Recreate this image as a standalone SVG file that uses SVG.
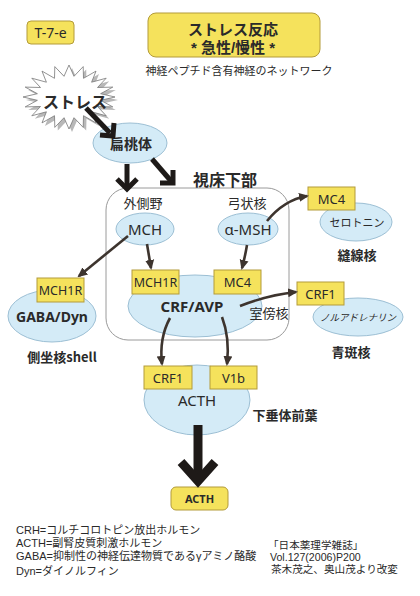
<svg xmlns="http://www.w3.org/2000/svg" width="420" height="596" viewBox="0 0 420 596">
<style>
text{font-family:"Noto Sans CJK JP","Noto Sans",sans-serif;fill:#2a2a2a}
.lat{font-family:"Noto Sans","Liberation Sans",sans-serif}
.b{font-weight:bold}
.c{text-anchor:middle}
.ell{fill:#d4ebf7;stroke:#9cbfd4;stroke-width:1}
.box{fill:#f5e25c;stroke:#b39b3a;stroke-width:1}
.thin{fill:none;stroke:#3d342e;stroke-width:2.6;marker-end:url(#ah)}
.thick{fill:none;stroke:#1e1a18;stroke-width:5;stroke-linejoin:miter}
.tt{font-family:"Liberation Sans","Noto Sans CJK JP",sans-serif;font-size:15px;font-weight:bold}
.note{font-family:"Liberation Sans","Noto Sans CJK JP",sans-serif;font-size:11px}
.note2{font-family:"Liberation Sans","Noto Sans CJK JP",sans-serif;font-size:10.6px}
</style>
<defs>
<marker id="ah" viewBox="0 0 10 10" refX="8" refY="5" markerWidth="10" markerHeight="10" markerUnits="userSpaceOnUse" orient="auto">
<path d="M0,0.5 L10,5 L0,9.5 z" fill="#3d342e"/>
</marker>
</defs>
<rect width="420" height="596" fill="#ffffff"/>

<g id="label-t7e">
<rect x="27" y="21" width="47" height="23" rx="4" class="box"/>
<text x="50.5" y="38" class="lat c" font-size="14">T-7-e</text>
</g>

<g id="title">
<rect x="148" y="13" width="172" height="44" rx="8" class="box"/>
<text x="233" y="35" class="c tt">ストレス反応</text>
<text x="233" y="53" class="c tt">* 急性/慢性 *</text>
<text x="239" y="75" class="c" font-size="11">神経ペプチド含有神経のネットワーク</text>
</g>

<g id="hypothalamus">
<rect x="106" y="188" width="183" height="152" rx="22" fill="none" stroke="#9a9a9a" stroke-width="1"/>
<text x="225" y="186" class="c b" font-size="16">視床下部</text>
<text x="143" y="208" class="c" font-size="13">外側野</text>
<text x="247" y="208" class="c" font-size="13">弓状核</text>
</g>

<g id="stress">
<polygon transform="translate(3,3)" fill="#b8b8b8" points="115,97 100.6,100.3 112.8,106.9 97.5,106.5 106.2,115.8 91.6,111.8 96,122.9 83.5,115.7 83.2,127.4 74,117.7 69,129 64,117.7 54.8,127.4 54.5,115.7 42,122.9 46.4,111.8 31.8,115.8 40.5,106.5 25.2,106.9 37.4,100.3 23,97 37.4,93.7 25.2,87.1 40.5,87.5 31.8,78.2 46.4,82.2 42,71.1 54.5,78.3 54.8,66.6 64,76.3 69,65 74,76.3 83.2,66.6 83.5,78.3 96,71.1 91.6,82.2 106.2,78.2 97.5,87.5 112.8,87.1 100.6,93.7"/>
<polygon fill="#ffffff" stroke="#777" stroke-width="0.8" points="115,97 100.6,100.3 112.8,106.9 97.5,106.5 106.2,115.8 91.6,111.8 96,122.9 83.5,115.7 83.2,127.4 74,117.7 69,129 64,117.7 54.8,127.4 54.5,115.7 42,122.9 46.4,111.8 31.8,115.8 40.5,106.5 25.2,106.9 37.4,100.3 23,97 37.4,93.7 25.2,87.1 40.5,87.5 31.8,78.2 46.4,82.2 42,71.1 54.5,78.3 54.8,66.6 64,76.3 69,65 74,76.3 83.2,66.6 83.5,78.3 96,71.1 91.6,82.2 106.2,78.2 97.5,87.5 112.8,87.1 100.6,93.7"/>
<text x="75" y="108" class="c b" font-size="16">ストレス</text>
</g>

<g id="amygdala">
<ellipse cx="130" cy="143" rx="37" ry="20" class="ell"/>
<text x="131" y="149" class="c b" font-size="14">扁桃体</text>
</g>

<g id="mch">
<ellipse cx="145" cy="229" rx="29" ry="16" class="ell"/>
<text x="145" y="235" class="lat c" font-size="15">MCH</text>
</g>

<g id="amsh">
<ellipse cx="248" cy="229" rx="30" ry="16" class="ell"/>
<text x="248" y="235" class="lat c" font-size="15">α-MSH</text>
</g>

<g id="pvn">
<ellipse cx="195" cy="306" rx="67" ry="31" class="ell"/>
<text x="192" y="312" class="lat c b" font-size="15">CRF/AVP</text>
<text x="269" y="318" class="c" font-size="13">室傍核</text>
<rect x="132" y="270" width="47" height="24" class="box"/>
<text x="155.5" y="287" class="lat c" font-size="12.5">MCH1R</text>
<rect x="214" y="270" width="47" height="24" class="box"/>
<text x="237.5" y="287" class="lat c" font-size="13">MC4</text>
</g>

<g id="raphe">
<ellipse cx="356" cy="222" rx="36" ry="19" class="ell"/>
<text x="357" y="227" class="c" font-size="11">セロトニン</text>
<text x="357" y="260" class="c b" font-size="13">縫線核</text>
<rect x="308" y="187" width="47" height="23" class="box"/>
<text x="331.5" y="204" class="lat c" font-size="13">MC4</text>
</g>

<g id="locus">
<ellipse cx="358" cy="317" rx="45" ry="19" class="ell"/>
<text x="358" y="321" class="c" font-size="9.5" font-style="italic">ノルアドレナリン</text>
<text x="351" y="357" class="c b" font-size="13">青斑核</text>
<rect x="297" y="282" width="47" height="23" class="box"/>
<text x="320.5" y="299" class="lat c" font-size="13">CRF1</text>
</g>

<g id="accumbens">
<ellipse cx="52" cy="316" rx="44" ry="26" class="ell"/>
<text x="52" y="322" class="lat c b" font-size="14">GABA/Dyn</text>
<text x="62" y="362" class="c b" font-size="13">側坐核shell</text>
<rect x="37" y="278" width="47" height="24" class="box"/>
<text x="60.5" y="295" class="lat c" font-size="12.5">MCH1R</text>
</g>

<g id="pituitary">
<ellipse cx="197" cy="400" rx="53" ry="35" class="ell"/>
<text x="197" y="406" class="lat c" font-size="15">ACTH</text>
<text x="285" y="420" class="c b" font-size="13">下垂体前葉</text>
<rect x="144" y="366" width="48" height="23" class="box"/>
<text x="168" y="383" class="lat c" font-size="13">CRF1</text>
<rect x="210" y="366" width="47" height="23" class="box"/>
<text x="233.5" y="383" class="lat c" font-size="13">V1b</text>
</g>

<g id="acth-out">
<rect x="171" y="487" width="57" height="23" rx="5" class="box"/>
<text x="199.5" y="503" class="lat c b" font-size="11">ACTH</text>
</g>

<g id="connectors">
<line x1="86" y1="108" x2="110" y2="133" class="thick"/>
<polyline points="114,123 113,136 100,135" class="thick"/>
<line x1="127" y1="164" x2="127" y2="187" class="thick"/>
<polyline points="117,179 127,189 137,179" class="thick"/>
<line x1="152" y1="159" x2="171" y2="181" class="thick"/>
<polyline points="173,170 173,183 160,183" class="thick"/>
<path d="M128,236 L79,276" class="thin"/>
<path d="M147,244 Q149,256 151,268" class="thin"/>
<path d="M247,245 Q245,257 242,268" class="thin"/>
<path d="M267,221 Q284,200 307,196" class="thin"/>
<path d="M240,306 Q268,295 296,292" class="thin"/>
<path d="M170,318 Q159,338 162,364" class="thin"/>
<path d="M222,317 Q230,338 227,364" class="thin"/>
<line x1="198" y1="425" x2="198" y2="481" stroke="#1e1a18" stroke-width="9"/>
<polyline points="181,462 198,481 215,462" fill="none" stroke="#1e1a18" stroke-width="9"/>
</g>

<g id="notes">
<text x="16" y="534" class="note">CRH=コルチコロトピン放出ホルモン</text>
<text x="16" y="547" class="note">ACTH=副腎皮質刺激ホルモン</text>
<text x="16" y="560" class="note">GABA=抑制性の神経伝達物質であるγアミノ酪酸</text>
<text x="16" y="575" class="note">Dyn=ダイノルフィン</text>
<text x="268" y="549" class="note2">「日本薬理学雑誌」</text>
<text x="270" y="561" class="note2">Vol.127(2006)P200</text>
<text x="271" y="573" class="note2">茶木茂之、奥山茂より改変</text>
</g>
</svg>
